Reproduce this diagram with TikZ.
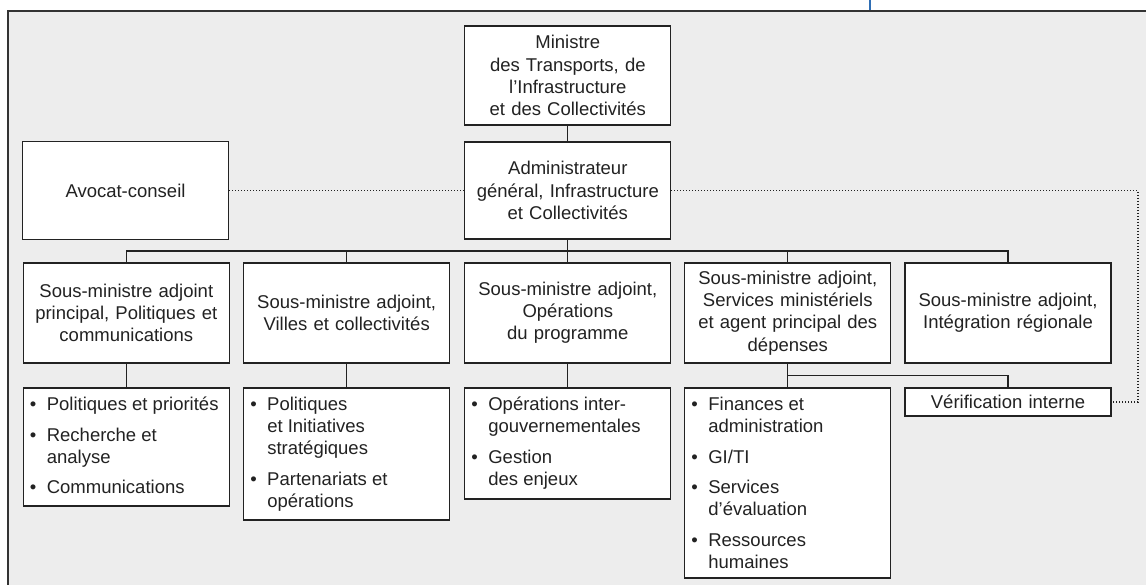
\documentclass[tikz,border=0pt]{standalone}
\usepackage{fontspec}
\setmainfont{Liberation Sans}
\usetikzlibrary{calc}
\definecolor{bg}{HTML}{EDEDED}
\definecolor{ink}{HTML}{222222}
\definecolor{topblue}{HTML}{2F6EB4}
\newcommand\bul{\makebox[17pt][l]{\textbullet}}
\tikzset{
  box/.style={draw=ink, line width=1.3pt, fill=white, inner sep=0pt,
    minimum width=206pt, text width=200pt, align=center, text=ink,
    font=\fontsize{18.5}{22.2}\selectfont},
  lbox/.style={draw=ink, line width=1.3pt, fill=white, inner sep=0pt,
    minimum width=206pt},
  conn/.style={draw=ink, line width=1.3pt},
  dots/.style={draw=ink, line width=1.1pt, dash pattern=on 1pt off 2pt},
  itemtext/.style={inner sep=0pt, anchor=base west, text=ink,
    font=\fontsize{18.5}{22}\selectfont}
}
\begin{document}
\begin{tikzpicture}[x=1pt,y=-1pt]
\useasboundingbox (0,0) rectangle (1146,585);
\fill[white] (0,0) rectangle (1146,585);
\fill[bg] (8,11) rectangle (1146,585);
\draw[line width=2pt, color=black!80] (8,586) -- (8,11) -- (1147,11);
\draw[line width=1.5pt, color=topblue] (870,0) -- (870,10);

% top level
\node[box, minimum height=99pt] (min) at (567.8,75.5)
  {Ministre\\des Transports, de\\l’Infrastructure\\et des Collectivités};
\node[box, minimum height=97pt] (adm) at (567.8,190.5)
  {Administrateur\\général, Infrastructure\\et Collectivités};
\node[box, minimum height=98pt] (avo) at (125.5,190.5) {Avocat-conseil};

% second level
\node[box, minimum height=100pt] (s1) at (126.3,313)
  {Sous-ministre adjoint\\principal, Politiques et\\communications};
\node[box, minimum height=100pt] (s2) at (346.7,313)
  {Sous-ministre adjoint,\\Villes et collectivités};
\node[box, minimum height=100pt] (s3) at (567.8,313)
  {Sous-ministre adjoint,\\Opérations\\du programme};
\node[box, minimum height=100pt] (s4) at (787.8,313)
  {Sous-ministre adjoint,\\Services ministériels\\et agent principal des\\dépenses};
\node[box, minimum height=100pt] (s5) at (1008,313)
  {Sous-ministre adjoint,\\Intégration régionale};

% third level
\node[lbox, minimum height=118pt] (c1) at (126.3,447) {};
\node[lbox, minimum height=132pt] (c2) at (346.7,454) {};
\node[lbox, minimum height=111pt] (c3) at (567.8,443.5) {};
\node[lbox, minimum height=190pt] (c4) at (787.8,483) {};
\node[box, minimum height=28pt] (ver) at (1008,402) {Vérification interne};

\node[itemtext] (c1t) at ($(c1.north west)+(7,23)$)
  {\begin{tabular}[t]{@{}l@{}l@{}}
   \bul & Politiques et priorités\\[8.7pt]
   \bul & Recherche et\\
        & analyse\\[8.7pt]
   \bul & Communications
   \end{tabular}};
\node[itemtext] (c2t) at ($(c2.north west)+(7,23)$)
  {\begin{tabular}[t]{@{}l@{}l@{}}
   \bul & Politiques\\
        & et Initiatives\\
        & stratégiques\\[8.7pt]
   \bul & Partenariats et\\
        & opérations
   \end{tabular}};
\node[itemtext] (c3t) at ($(c3.north west)+(7,23)$)
  {\begin{tabular}[t]{@{}l@{}l@{}}
   \bul & Opérations inter-\\
        & gouvernementales\\[8.7pt]
   \bul & Gestion\\
        & des enjeux
   \end{tabular}};
\node[itemtext] (c4t) at ($(c4.north west)+(7,23)$)
  {\begin{tabular}[t]{@{}l@{}l@{}}
   \bul & Finances et\\
        & administration\\[8.7pt]
   \bul & GI/TI\\[8.7pt]
   \bul & Services\\
        & d’évaluation\\[8.7pt]
   \bul & Ressources\\
        & humaines
   \end{tabular}};

% connectors
\draw[conn] (min) -- (adm);
\draw[conn] (adm) -- (s3);
\draw[conn] (s1.north) -- ++(0,-11.3) -| (s5.north);
\draw[conn] (s2.north) -- ++(0,-11.3);
\draw[conn] (s4.north) -- ++(0,-11.3);
\draw[conn] (s1) -- (c1);
\draw[conn] (s2) -- (c2);
\draw[conn] (s3) -- (c3);
\draw[conn] (s4) -- (c4);
\draw[conn] (s4.south) -- ++(0,12) -| (ver.north);

% dotted links
\coordinate (rc) at (1138,190.5);
\draw[dots] (avo.east) -- (adm.west);
\draw[dots] (adm.east) -- (rc) |- (ver.east);
\end{tikzpicture}
\end{document}
